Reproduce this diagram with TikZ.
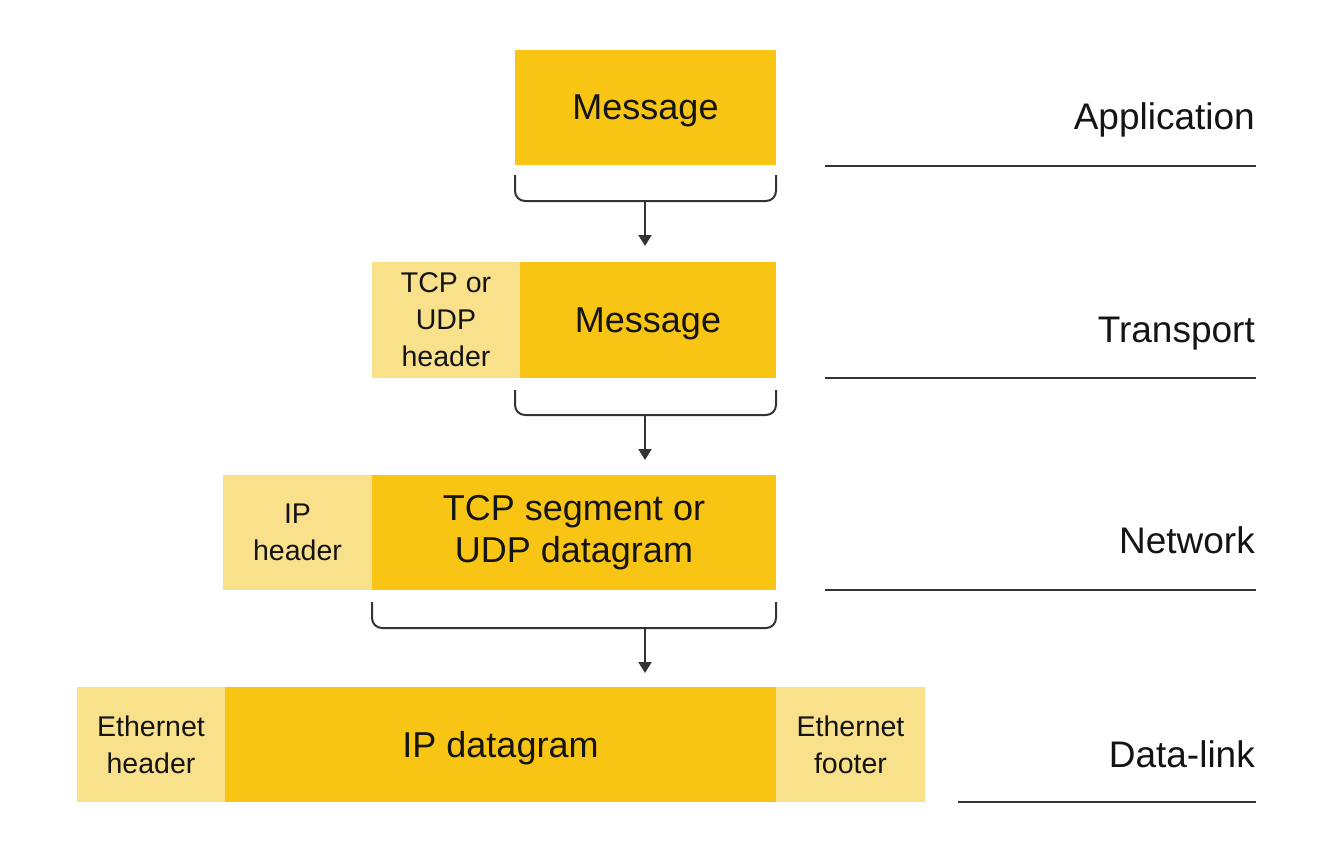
\documentclass[tikz,border=0pt]{standalone}
\usepackage{fontspec}
\setmainfont{Liberation Sans}
\usetikzlibrary{arrows.meta,calc}
\definecolor{darkY}{HTML}{F8C514}
\definecolor{lightY}{HTML}{F9E08A}
\definecolor{lineG}{HTML}{333333}
\definecolor{txt}{HTML}{141414}
\begin{document}
\begin{tikzpicture}[x=1pt,y=-1pt,
  blk/.style={rectangle,inner sep=0pt,outer sep=0pt,align=center,text=txt},
  dk/.style={blk,fill=darkY,font=\fontsize{36}{42}\selectfont},
  lt/.style={blk,fill=lightY,font=\fontsize{28.5}{37}\selectfont},
  lay/.style={anchor=base east,inner sep=0pt,text=txt,font=\fontsize{37}{44}\selectfont},
  rule/.style={draw=lineG,line width=2pt},
  brace/.style={draw=lineG,line width=2pt,rounded corners=10pt},
  flow/.style={draw=lineG,line width=2pt,-{Triangle[width=13pt,length=11pt]}}]
\useasboundingbox (0,0) rectangle (1327,867);
\fill[white] (0,0) rectangle (1327,867);

% Application row
\node[dk,minimum width=261pt,minimum height=115pt,text depth=0pt] (m1) at (645.5,107.5) {Message};

% Transport row
\node[lt,minimum width=148pt,minimum height=116pt] (tcph) at (446,320) {TCP or\\UDP\\header};
\node[dk,minimum width=256pt,minimum height=116pt,text depth=0pt] (m2) at (648,320) {Message};

% Network row
\node[lt,minimum width=149pt,minimum height=115pt] (iph) at (297.5,532.5) {IP\\header};
\node[dk,minimum width=404pt,minimum height=115pt] (seg) at (574,532.5) {TCP segment or\\UDP datagram};

% Data-link row
\node[lt,minimum width=148pt,minimum height=115pt] (ethh) at (151,744.5) {Ethernet\\header};
\node[dk,minimum width=551pt,minimum height=115pt,text depth=0pt] (ipd) at (500.5,744.5) {IP datagram};
\node[lt,minimum width=149pt,minimum height=115pt] (ethf) at (850.5,744.5) {Ethernet\\footer};

% braces
\draw[brace] ($(m1.south west)+(0,10)$) -- ++(0,26) -| ($(m1.south east)+(0,10)$);
\draw[brace] (515,390) -- (515,415) -| (776,390);
\draw[brace] ($(seg.south west)+(0,12)$) -- (372,628) -| ($(seg.south east)+(0,12)$);

% arrows
\coordinate (b1) at (645,200);
\coordinate (e1) at (645,246);
\coordinate (b2) at (645,414);
\coordinate (e2) at (645,460);
\coordinate (b3) at (645,627);
\coordinate (e3) at (645,673);
\draw[flow] (b1) -- (e1);
\draw[flow] (b2) -- (e2);
\draw[flow] (b3) -- (e3);

% layer labels and rules
\node[lay] (app) at (1255,129) {Application};
\node[lay] (tra) at (1255,342) {Transport};
\node[lay] (net) at (1255,553) {Network};
\node[lay] (dl) at (1255,767) {Data-link};
\coordinate (r1a) at (825,166); \coordinate (r1b) at (1256,166);
\coordinate (r2a) at (825,378); \coordinate (r2b) at (1256,378);
\coordinate (r3a) at (825,590); \coordinate (r3b) at (1256,590);
\coordinate (r4a) at (958,802); \coordinate (r4b) at (1256,802);
\draw[rule] (r1a) -- (r1b);
\draw[rule] (r2a) -- (r2b);
\draw[rule] (r3a) -- (r3b);
\draw[rule] (r4a) -- (r4b);
\end{tikzpicture}
\end{document}
